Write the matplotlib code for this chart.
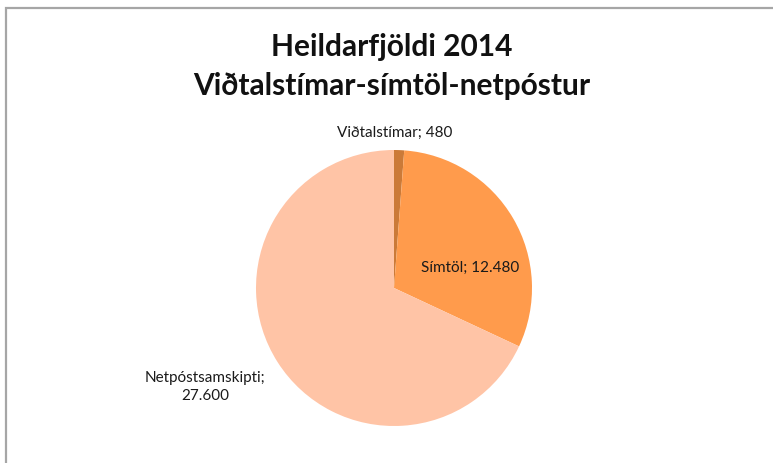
import numpy as np
import matplotlib.pyplot as plt
from matplotlib.patches import Rectangle

categories = ["Viðtalstímar", "Símtöl", "Netpóstsamskipti"]
values = [480, 12480, 27600]
value_labels = ["480", "12.480", "27.600"]
colors = ["#CB7A38", "#FF9B4C", "#FFC4A6"]

W, H = 773, 464
fig = plt.figure(figsize=(W / 100, H / 100), dpi=100)
plt.rcParams["font.family"] = ["Lato", "DejaVu Sans"]

# frame of the chart area (cut off on right/bottom like the screenshot)
fig.patches.append(Rectangle((6 / W, -0.1), 1.2, (H - 9) / H + 0.1, transform=fig.transFigure,
                             fill=False, edgecolor="#A6A6A6", lw=1.6))

fig.text(392 / W, 1 - 47 / H, "Heildarfjöldi 2014", ha="center", va="center",
         fontsize=21.5, fontweight="bold", color="#111111")
fig.text(392 / W, 1 - 86 / H, "Viðtalstímar-símtöl-netpóstur", ha="center", va="center",
         fontsize=21.5, fontweight="bold", color="#111111")

# pie centre (394, 289), radius 138 px
cx, cy, r = 394, 289, 138
ax = fig.add_axes([(cx - r) / W, (H - cy - r) / H, 2 * r / W, 2 * r / H])
wedges, _ = ax.pie(values, colors=colors, startangle=90, counterclock=False,
                   radius=1, wedgeprops=dict(linewidth=0))
ax.set_xlim(-1, 1)
ax.set_ylim(-1, 1)
ax.set_aspect("equal")
ax.axis("off")

# label placement (radius factor, angle offset in degrees) per slice
label_r = [1.13, 0.57, 1.54]
label_da = [2.0, -15.0, -5.0]
for w, name, vl, lr, da in zip(wedges, categories, value_labels, label_r, label_da):
    ang = np.deg2rad((w.theta1 + w.theta2) / 2 + da)
    x, y = lr * np.cos(ang), lr * np.sin(ang)
    if name == "Netpóstsamskipti":
        txt = f"{name};\n{vl}"
    else:
        txt = f"{name}; {vl}"
    ax.text(x, y, txt, ha="center", va="center", fontsize=11, color="#1A1A1A",
            linespacing=1.3, clip_on=False)

fig.savefig("out.png", dpi=100)
